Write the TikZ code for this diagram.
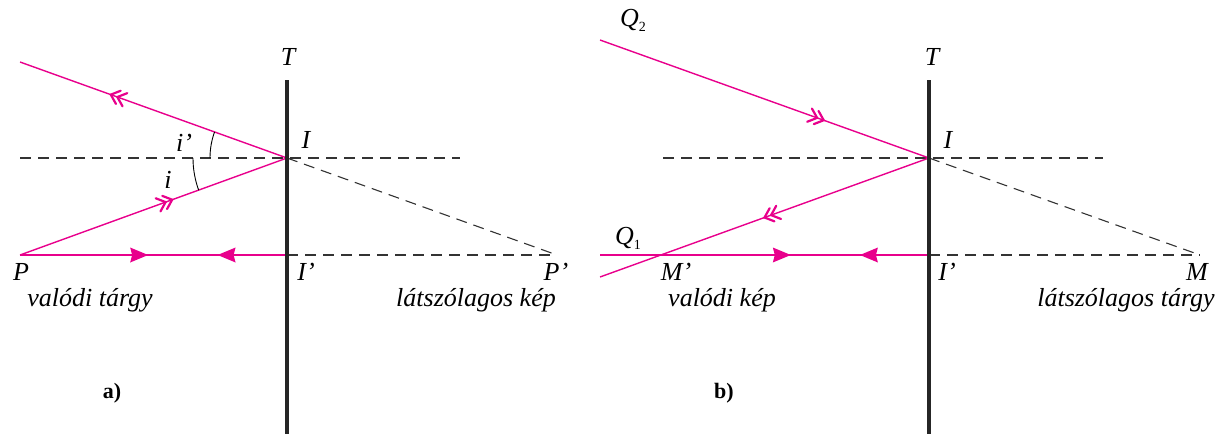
\documentclass[tikz,border=0pt]{standalone}
\usepackage{fontspec}
\setmainfont{Liberation Serif}
\usetikzlibrary{arrows.meta,decorations.markings,calc}
\definecolor{mag}{RGB}{232,0,140}
\newcommand{\lbl}{\fontsize{26}{31}\selectfont\itshape}
\newcommand{\subn}[1]{\raisebox{-5pt}{\upshape\fontsize{14}{14}\selectfont #1}}
\begin{document}
\begin{tikzpicture}[x=1pt,y=-1pt,
  ray/.style={draw=mag,line width=1.4pt},
  dashline/.style={draw=black!80,line width=1.1pt,dash pattern=on 11pt off 7pt},
  mirror/.style={draw=black!85,line width=3.6pt},
  lab/.style={inner sep=0pt,font=\lbl},
  dbl/.style={postaction={decorate,decoration={markings,mark=at position #1 with {
     \draw[mag,line width=2.2pt,line cap=round,line join=miter] (-8pt,-7pt) -- (0pt,0pt) -- (-8pt,7pt);
     \draw[mag,line width=2.2pt,line cap=round,line join=miter] (-15pt,-7pt) -- (-7pt,0pt) -- (-15pt,7pt);}}}},
  tri/.style={postaction={decorate,decoration={markings,mark=at position #1 with {
     \fill[mag] (0pt,0pt) -- (-18pt,7.5pt) -- (-16pt,0pt) -- (-18pt,-7.5pt) -- cycle;}}}},
  anglearc/.style={draw=black,line width=0.9pt}]
\useasboundingbox (0,0) rectangle (1220,434);
% ---------- a) ----------
\coordinate (Ia) at (287,158);
\coordinate (Ipa) at (287,255);
\coordinate (Pa) at (20,255);
\coordinate (Ppa) at (557,255);
\coordinate (Ra) at (20,62);
\coordinate (Hla) at (20,158);
\coordinate (Hra) at (460,158);
\coordinate (Ta) at (287,80);
\coordinate (Ba) at (287,434);
\draw[dashline] (Hla) -- (Hra);
\draw[dashline] (Ipa) -- (Ppa);
\draw[dashline] (Ia) -- (Ppa);
\draw[ray,dbl=0.66] (Ia) -- (Ra);
\draw[ray,dbl=0.57] (Pa) -- (Ia);
\draw[ray,tri=0.48] (Pa) -- (Ipa);
\draw[ray,tri=0.26] (Ipa) -- (Pa);
\draw[anglearc] (Ia) ++(180:77) arc[start angle=180,end angle=199.8,radius=77];
\draw[anglearc] (Ia) ++(160:94) arc[start angle=160,end angle=180,radius=94];
\draw[mirror] (Ta) -- (Ba);
\node[lab] (lTa) at (288,57) {T};
\node[lab] (lIa) at (306,140) {I};
\node[lab] (lIpa) at (306,272) {I'};
\node[lab] (lPa) at (21,272) {P};
\node[lab] (lPpa) at (556,272) {P'};
\node[lab] (lip) at (184,143) {i'};
\node[lab] (li) at (168,180) {i};
\node[lab] (va) at (90,300) {valódi tárgy};
\node[lab] (la) at (476,300) {látszólagos kép};
\node[inner sep=0pt,font=\fontsize{22}{26}\selectfont\bfseries] (a) at (112,393) {a)};
% ---------- b) ----------
\coordinate (Ib) at (929,158);
\coordinate (Ipb) at (929,255);
\coordinate (Q1) at (600,255);
\coordinate (Mb) at (1200,255);
\coordinate (Q2) at (600,40);
\coordinate (Eb) at (600,277);
\coordinate (Hlb) at (663,158);
\coordinate (Hrb) at (1103,158);
\coordinate (Tb) at (929,80);
\coordinate (Bb) at (929,434);
\draw[dashline] (Hlb) -- (Hrb);
\draw[dashline] (Ipb) -- (Mb);
\draw[dashline] (Ib) -- (Mb);
\draw[ray,dbl=0.68] (Q2) -- (Ib);
\draw[ray,dbl=0.5] (Ib) -- (Eb);
\draw[ray,tri=0.58] (Q1) -- (Ipb);
\draw[ray,tri=0.21] (Ipb) -- (Q1);
\draw[mirror] (Tb) -- (Bb);
\node[lab] (lTb) at (932,57) {T};
\node[lab] (lIb) at (948,140) {I};
\node[lab] (lIpb) at (947,272) {I'};
\node[lab] (lQ2) at (633,20) {Q\subn{2}};
\node[lab] (lQ1) at (628,238) {Q\subn{1}};
\node[lab] (lMp) at (676,272) {M'};
\node[lab] (lM) at (1197,272) {M};
\node[lab] (vb) at (722,300) {valódi kép};
\node[lab] (lb) at (1126,300) {látszólagos tárgy};
\node[inner sep=0pt,font=\fontsize{22}{26}\selectfont\bfseries] (b) at (724,393) {b)};
\end{tikzpicture}
\end{document}
